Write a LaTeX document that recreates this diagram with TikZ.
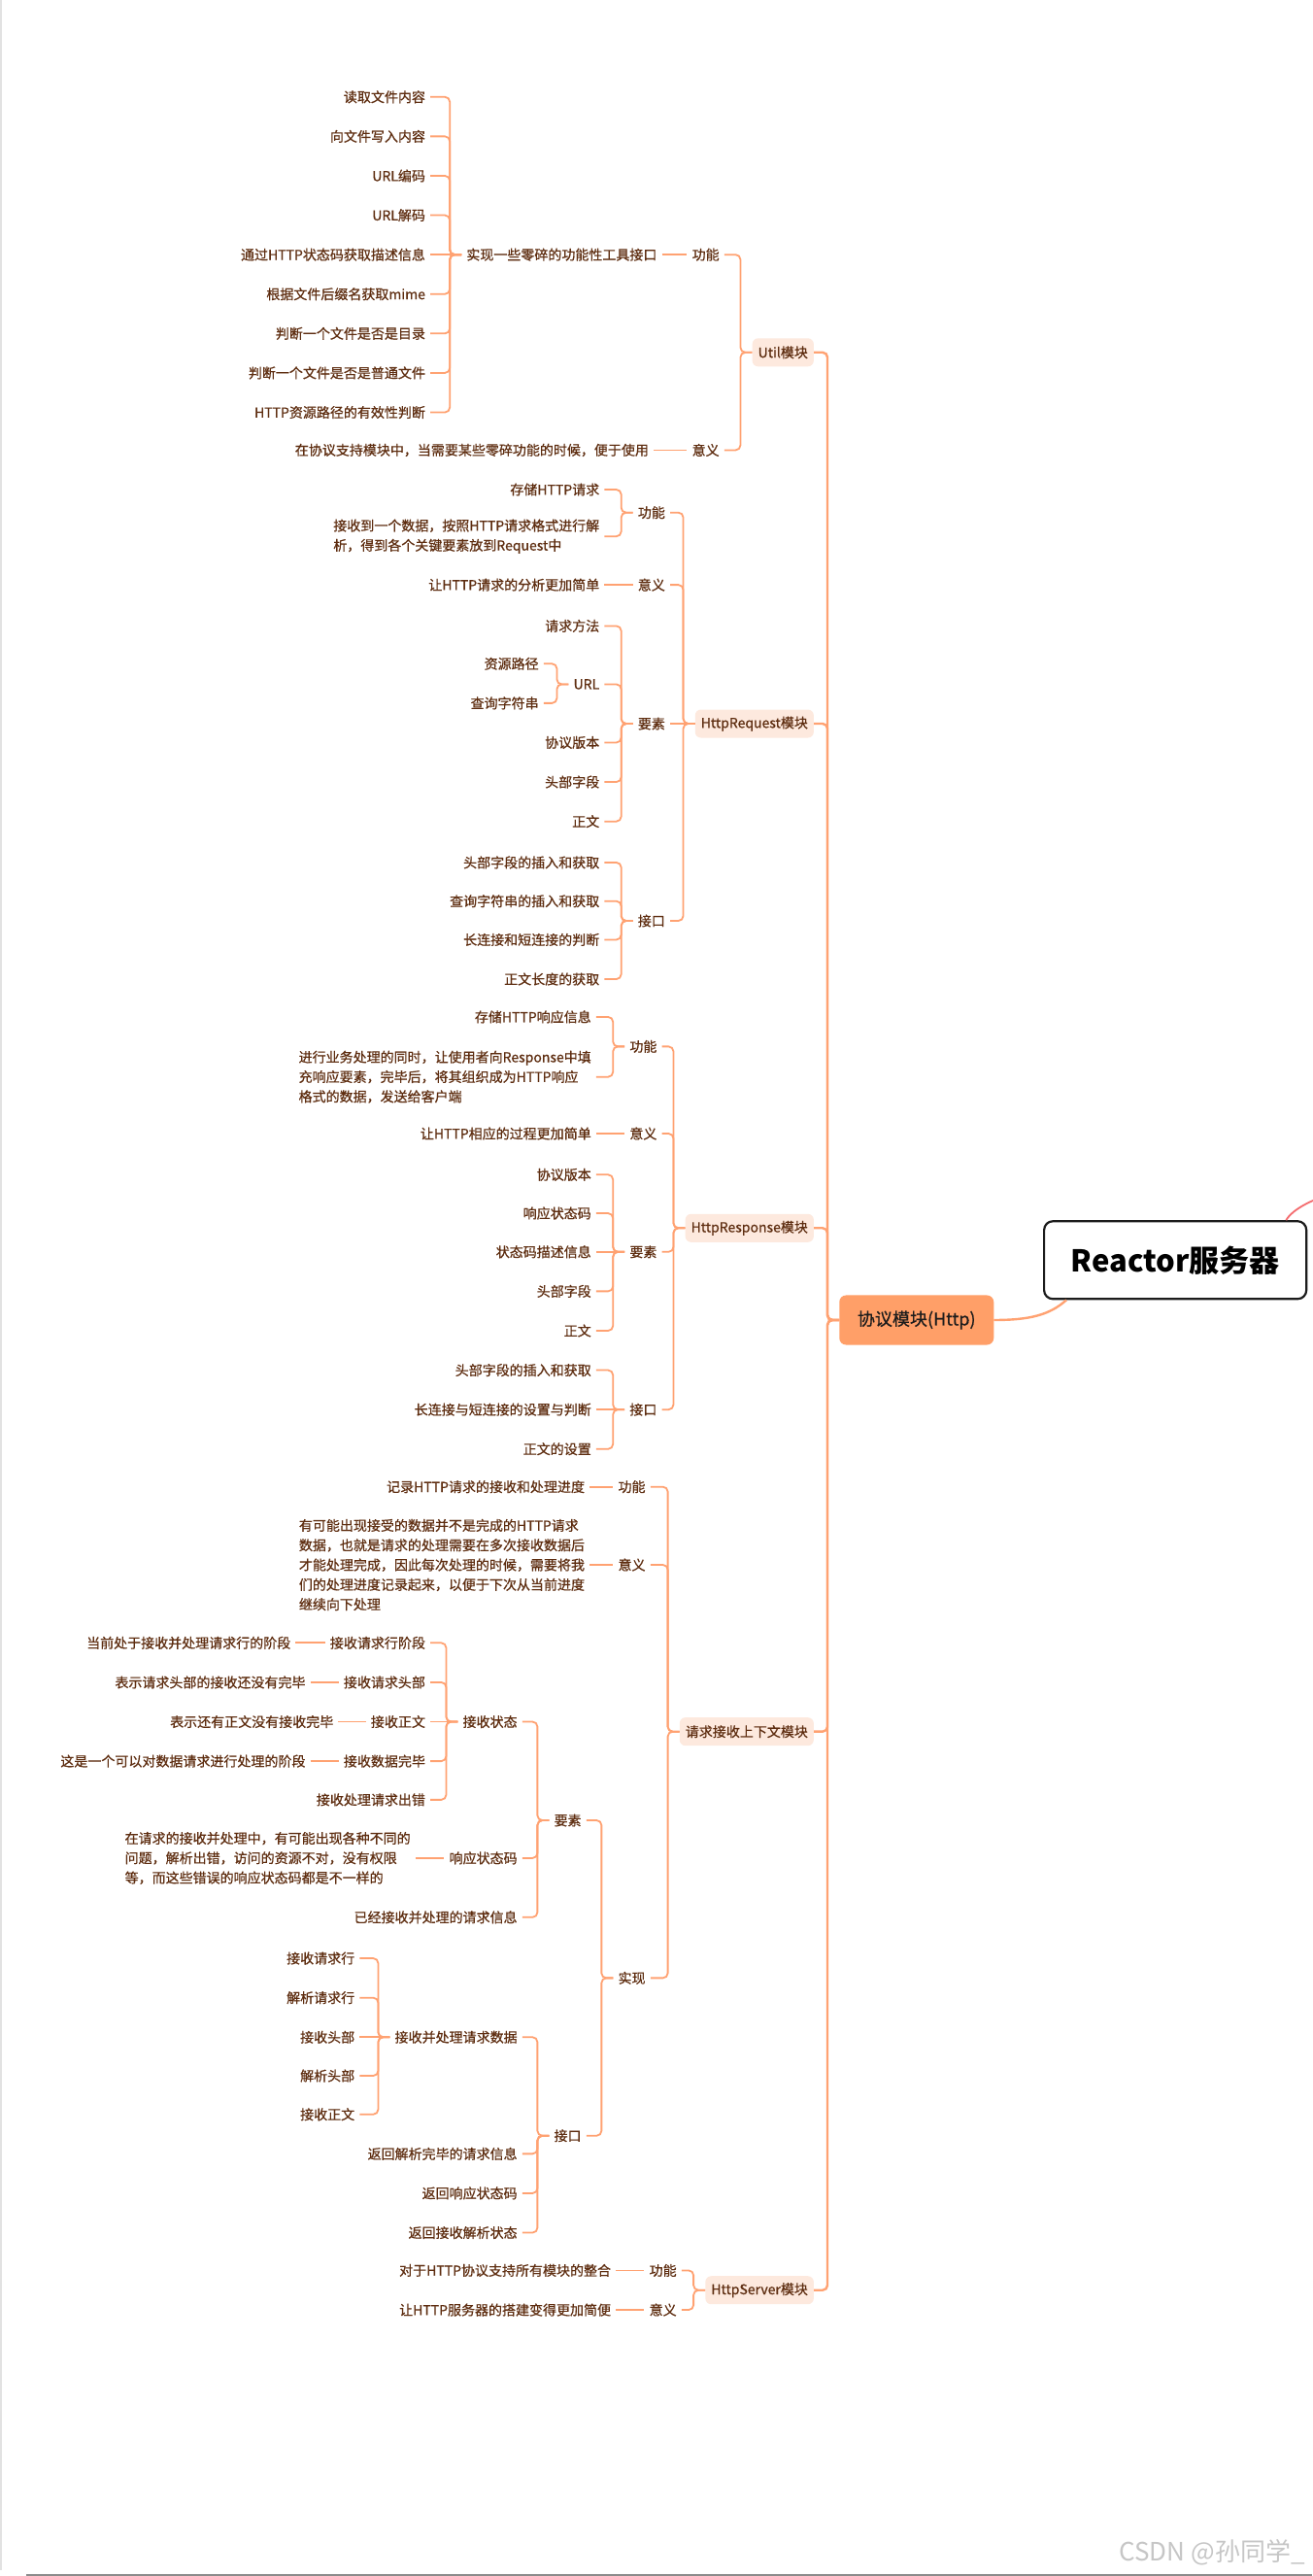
\documentclass[tikz,border=0pt]{standalone}
\usepackage{fontspec}
\setmainfont{Noto Sans CJK SC}
\newfontfamily\mapfont{Noto Sans CJK SC}[RawFeature={embolden=0.6}]
\usepackage{tikz}
\definecolor{mapbrown}{HTML}{5E2D10}
\definecolor{maporange}{HTML}{FFA272}
\definecolor{mappeach}{HTML}{FDE9DE}
\definecolor{maptopic}{HTML}{FF9F68}
\definecolor{mapred}{HTML}{F46B6E}
\definecolor{mapink}{HTML}{1C1C1C}
\definecolor{edgegrey}{HTML}{E2E2E2}
\definecolor{rulegrey}{HTML}{8C8C8C}
\definecolor{markgrey}{HTML}{C6C6C6}
\tikzset{
  leaf/.style    = {anchor=east, text=mapbrown, font=\mapfont\fontsize{14}{20.3}\selectfont,
                    inner xsep=5pt, inner ysep=2pt, align=left},
  modbox/.style  = {leaf, fill=mappeach, rounded corners=6pt, inner xsep=6pt, minimum height=29pt},
  topic/.style   = {fill=maptopic, rounded corners=7pt, text=mapink, font=\mapfont\fontsize{18}{22}\selectfont,
                    minimum width=159pt, minimum height=51pt},
  rootbox/.style = {draw=mapink, line width=2.2pt, rounded corners=9pt, fill=white, text=black,
                    font=\fontsize{31}{36}\selectfont\bfseries, minimum width=270pt, minimum height=80pt},
  link/.style    = {draw=maporange, line width=1.8pt, rounded corners=5pt},
  trunk/.style   = {link, line width=2.4pt},
  fork/.style    = {to path={-| ([xshift=-12pt]\tikztotarget.west) [sharp corners] -- (\tikztotarget.west)}},
}

\begin{document}
\begin{tikzpicture}[x=1.6909pt, y=-1.6909pt]
  \path[use as bounding box, fill=white] (0,0) rectangle (799,1568);
  \fill[edgegrey] (0,0) rectangle (1.3,1564.5);
  \fill[rulegrey] (16,1566.9) rectangle (799,1568);

  % root and main topic
  \node[rootbox] (root) at (715.5,767) {Reactor服务器};
  \node[topic] (http) at (558,803.5) {协议模块(Http)};

  % Util
  \node[modbox] (util) at (495.5,214.5) {Util模块};
  \node[leaf] (ufn) at (441,155) {功能};
  \node[leaf] (umean) at (441,274) {意义};
  \node[leaf] (utool) at (403,155) {实现一些零碎的功能性工具接口};
  \node[leaf] (uuse) at (398,274) {在协议支持模块中，当需要某些零碎功能的时候，便于使用};
  \node[leaf] (u1) at (262,59) {读取文件内容};
  \node[leaf] (u2) at (262,83) {向文件写入内容};
  \node[leaf] (u3) at (262,107) {URL编码};
  \node[leaf] (u4) at (262,131) {URL解码};
  \node[leaf] (u5) at (262,155) {通过HTTP状态码获取描述信息};
  \node[leaf] (u6) at (262,179) {根据文件后缀名获取mime};
  \node[leaf] (u7) at (262,203) {判断一个文件是否是目录};
  \node[leaf] (u8) at (262,227) {判断一个文件是否是普通文件};
  \node[leaf] (u9) at (262,251) {HTTP资源路径的有效性判断};

  % HttpRequest
  \node[modbox] (req) at (495.5,440.5) {HttpRequest模块};
  \node[leaf] (rqfn) at (408,312) {功能};
  \node[leaf] (rqmean) at (408,356) {意义};
  \node[leaf] (rqel) at (408,440.5) {要素};
  \node[leaf] (rqapi) at (408,560.5) {接口};
  \node[leaf] (rq1) at (368,298) {存储HTTP请求};
  \node[leaf] (rq2) at (368,326.5) {接收到一个数据，按照HTTP请求格式进行解\\析，得到各个关键要素放到Request中};
  \node[leaf] (rq3) at (368,356) {让HTTP请求的分析更加简单};
  \node[leaf] (rq4) at (368,381) {请求方法};
  \node[leaf] (rqurl) at (368,416.5) {URL};
  \node[leaf] (rq5) at (331,404) {资源路径};
  \node[leaf] (rq6) at (331,428) {查询字符串};
  \node[leaf] (rq7) at (368,452) {协议版本};
  \node[leaf] (rq8) at (368,476) {头部字段};
  \node[leaf] (rq9) at (368,500) {正文};
  \node[leaf] (rq10) at (368,525) {头部字段的插入和获取};
  \node[leaf] (rq11) at (368,548.5) {查询字符串的插入和获取};
  \node[leaf] (rq12) at (368,572) {长连接和短连接的判断};
  \node[leaf] (rq13) at (368,596) {正文长度的获取};

  % HttpResponse
  \node[modbox] (resp) at (495.5,747.5) {HttpResponse模块};
  \node[leaf] (rsfn) at (403,637) {功能};
  \node[leaf] (rsmean) at (403,690) {意义};
  \node[leaf] (rsel) at (403,762) {要素};
  \node[leaf] (rsapi) at (403,858) {接口};
  \node[leaf] (rs1) at (363,619) {存储HTTP响应信息};
  \node[leaf] (rs2) at (363,655.5) {进行业务处理的同时，让使用者向Response中填\\充响应要素，完毕后，将其组织成为HTTP响应\\格式的数据，发送给客户端};
  \node[leaf] (rs3) at (363,690) {让HTTP相应的过程更加简单};
  \node[leaf] (rs4) at (363,715) {协议版本};
  \node[leaf] (rs5) at (363,738.5) {响应状态码};
  \node[leaf] (rs6) at (363,762) {状态码描述信息};
  \node[leaf] (rs7) at (363,786) {头部字段};
  \node[leaf] (rs8) at (363,810) {正文};
  \node[leaf] (rs9) at (363,834) {头部字段的插入和获取};
  \node[leaf] (rs10) at (363,858) {长连接与短连接的设置与判断};
  \node[leaf] (rs11) at (363,882) {正文的设置};

  % request context
  \node[modbox] (ctx) at (495.5,1054) {请求接收上下文模块};
  \node[leaf] (cxfn) at (396,905) {功能};
  \node[leaf] (cxmean) at (396,952.5) {意义};
  \node[leaf] (cximpl) at (396,1204) {实现};
  \node[leaf] (cx1) at (359,905) {记录HTTP请求的接收和处理进度};
  \node[leaf] (cx2) at (359,952.5) {有可能出现接受的数据并不是完成的HTTP请求\\数据，也就是请求的处理需要在多次接收数据后\\才能处理完成，因此每次处理的时候，需要将我\\们的处理进度记录起来，以便于下次从当前进度\\继续向下处理};
  \node[leaf] (cxel) at (357,1108) {要素};
  \node[leaf] (cxapi) at (357,1300) {接口};
  \node[leaf] (cxstate) at (318,1048) {接收状态};
  \node[leaf] (cxcode) at (318,1131) {响应状态码};
  \node[leaf] (cxinfo) at (318,1167) {已经接收并处理的请求信息};
  \node[leaf] (cs1) at (262,1000) {接收请求行阶段};
  \node[leaf] (cs2) at (262,1024) {接收请求头部};
  \node[leaf] (cs3) at (262,1048) {接收正文};
  \node[leaf] (cs4) at (262,1072) {接收数据完毕};
  \node[leaf] (cs5) at (262,1095.5) {接收处理请求出错};
  \node[leaf] (cs1d) at (180,1000) {当前处于接收并处理请求行的阶段};
  \node[leaf] (cs2d) at (189,1024) {表示请求头部的接收还没有完毕};
  \node[leaf] (cs3d) at (206,1048) {表示还有正文没有接收完毕};
  \node[leaf] (cs4d) at (189,1072) {这是一个可以对数据请求进行处理的阶段};
  \node[leaf] (cxcoded) at (253,1131) {在请求的接收并处理中，有可能出现各种不同的\\问题，解析出错，访问的资源不对，没有权限\\等，而这些错误的响应状态码都是不一样的};
  \node[leaf] (cxrecv) at (318,1240) {接收并处理请求数据};
  \node[leaf] (cxret1) at (318,1311) {返回解析完毕的请求信息};
  \node[leaf] (cxret2) at (318,1335) {返回响应状态码};
  \node[leaf] (cxret3) at (318,1359) {返回接收解析状态};
  \node[leaf] (ca1) at (219,1192) {接收请求行};
  \node[leaf] (ca2) at (219,1216) {解析请求行};
  \node[leaf] (ca3) at (219,1240) {接收头部};
  \node[leaf] (ca4) at (219,1263.5) {解析头部};
  \node[leaf] (ca5) at (219,1287) {接收正文};

  % HttpServer
  \node[modbox] (srv) at (495.5,1394) {HttpServer模块};
  \node[leaf] (svfn) at (415,1382) {功能};
  \node[leaf] (svmean) at (415,1406) {意义};
  \node[leaf] (sv1) at (375,1382) {对于HTTP协议支持所有模块的整合};
  \node[leaf] (sv2) at (375,1406) {让HTTP服务器的搭建变得更加简便};

  \node[anchor=base east, text=markgrey, font=\fontsize{26}{30}\selectfont] (mark) at (796.5,1559) {CSDN @孙同学\_};

  % connectors
  \draw[trunk] (util.east) to[fork] (http);
  \draw[trunk] (req.east) to[fork] (http);
  \draw[trunk] (resp.east) to[fork] (http);
  \draw[trunk] (ctx.east) to[fork] (http);
  \draw[trunk] (srv.east) to[fork] (http);
  \draw[trunk] (http.east) .. controls +(22,0) and +(-10,9) .. ([xshift=24pt]root.south west);
  \coordinate (offpage) at (800,730.5);
  \draw[link, draw=mapred] ([xshift=-22pt]root.north east) .. controls +(3,-5) and +(-7,3) .. (offpage);

  \draw[link] (ufn.east) to[fork] (util);
  \draw[link] (umean.east) to[fork] (util);
  \draw[link] (utool.east) -- (ufn.west);
  \draw[link] (uuse.east) -- (umean.west);
  \draw[link] (u1.east) to[fork] (utool);
  \draw[link] (u2.east) to[fork] (utool);
  \draw[link] (u3.east) to[fork] (utool);
  \draw[link] (u4.east) to[fork] (utool);
  \draw[link] (u5.east) -- (utool.west);
  \draw[link] (u6.east) to[fork] (utool);
  \draw[link] (u7.east) to[fork] (utool);
  \draw[link] (u8.east) to[fork] (utool);
  \draw[link] (u9.east) to[fork] (utool);

  \draw[link] (rqfn.east) to[fork] (req);
  \draw[link] (rqmean.east) to[fork] (req);
  \draw[link] (rqel.east) -- (req.west);
  \draw[link] (rqapi.east) to[fork] (req);
  \draw[link] (rq1.east) to[fork] (rqfn);
  \draw[link] (rq2.east) to[fork] (rqfn);
  \draw[link] (rq3.east) -- (rqmean.west);
  \draw[link] (rq4.east) to[fork] (rqel);
  \draw[link] (rqurl.east) to[fork] (rqel);
  \draw[link] (rq5.east) to[fork] (rqurl);
  \draw[link] (rq6.east) to[fork] (rqurl);
  \draw[link] (rq7.east) to[fork] (rqel);
  \draw[link] (rq8.east) to[fork] (rqel);
  \draw[link] (rq9.east) to[fork] (rqel);
  \draw[link] (rq10.east) to[fork] (rqapi);
  \draw[link] (rq11.east) to[fork] (rqapi);
  \draw[link] (rq12.east) to[fork] (rqapi);
  \draw[link] (rq13.east) to[fork] (rqapi);

  \draw[link] (rsfn.east) to[fork] (resp);
  \draw[link] (rsmean.east) to[fork] (resp);
  \draw[link] (rsel.east) to[fork] (resp);
  \draw[link] (rsapi.east) to[fork] (resp);
  \draw[link] (rs1.east) to[fork] (rsfn);
  \draw[link] (rs2.east) to[fork] (rsfn);
  \draw[link] (rs3.east) -- (rsmean.west);
  \draw[link] (rs4.east) to[fork] (rsel);
  \draw[link] (rs5.east) to[fork] (rsel);
  \draw[link] (rs6.east) -- (rsel.west);
  \draw[link] (rs7.east) to[fork] (rsel);
  \draw[link] (rs8.east) to[fork] (rsel);
  \draw[link] (rs9.east) to[fork] (rsapi);
  \draw[link] (rs10.east) -- (rsapi.west);
  \draw[link] (rs11.east) to[fork] (rsapi);

  \draw[link] (cxfn.east) to[fork] (ctx);
  \draw[link] (cxmean.east) to[fork] (ctx);
  \draw[link] (cximpl.east) to[fork] (ctx);
  \draw[link] (cx1.east) -- (cxfn.west);
  \draw[link] (cx2.east) -- (cxmean.west);
  \draw[link] (cxel.east) to[fork] (cximpl);
  \draw[link] (cxapi.east) to[fork] (cximpl);
  \draw[link] (cxstate.east) to[fork] (cxel);
  \draw[link] (cxcode.east) to[fork] (cxel);
  \draw[link] (cxinfo.east) to[fork] (cxel);
  \draw[link] (cs1.east) to[fork] (cxstate);
  \draw[link] (cs2.east) to[fork] (cxstate);
  \draw[link] (cs3.east) -- (cxstate.west);
  \draw[link] (cs4.east) to[fork] (cxstate);
  \draw[link] (cs5.east) to[fork] (cxstate);
  \draw[link] (cs1d.east) -- (cs1.west);
  \draw[link] (cs2d.east) -- (cs2.west);
  \draw[link] (cs3d.east) -- (cs3.west);
  \draw[link] (cs4d.east) -- (cs4.west);
  \draw[link] (cxcoded.east) -- (cxcode.west);
  \draw[link] (cxrecv.east) to[fork] (cxapi);
  \draw[link] (cxret1.east) to[fork] (cxapi);
  \draw[link] (cxret2.east) to[fork] (cxapi);
  \draw[link] (cxret3.east) to[fork] (cxapi);
  \draw[link] (ca1.east) to[fork] (cxrecv);
  \draw[link] (ca2.east) to[fork] (cxrecv);
  \draw[link] (ca3.east) -- (cxrecv.west);
  \draw[link] (ca4.east) to[fork] (cxrecv);
  \draw[link] (ca5.east) to[fork] (cxrecv);

  \draw[link] (svfn.east) to[fork] (srv);
  \draw[link] (svmean.east) to[fork] (srv);
  \draw[link] (sv1.east) -- (svfn.west);
  \draw[link] (sv2.east) -- (svmean.west);
\end{tikzpicture}
\end{document}
